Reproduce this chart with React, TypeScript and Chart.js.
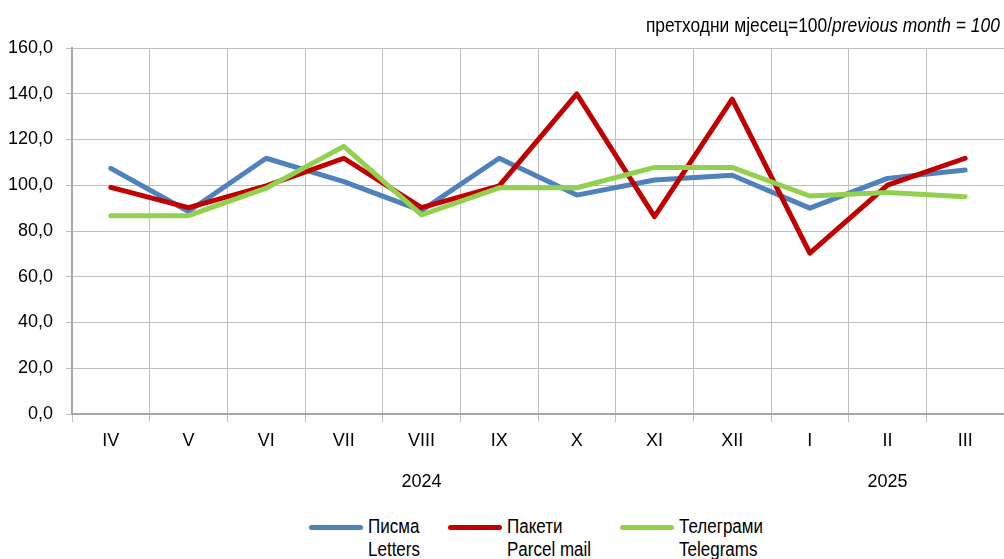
import React, { useEffect, useRef } from 'react';
import { Chart, registerables } from 'chart.js';

Chart.register(...registerables);

const categories = ['IV', 'V', 'VI', 'VII', 'VIII', 'IX', 'X', 'XI', 'XII', 'I', 'II', 'III'];
const yearLabels = ['', '', '', '', '2024', '', '', '', '', '', '2025', ''];
const letters = [107.4, 88.5, 111.8, 101.6, 88.9, 111.8, 95.7, 102.3, 104.4, 90.0, 103.0, 106.7];
const parcel = [99.1, 90.2, 99.7, 111.8, 90.2, 99.7, 139.9, 86.3, 137.6, 70.3, 100.1, 111.8];
const telegrams = [86.7, 86.7, 98.7, 117.0, 87.0, 98.9, 98.9, 107.8, 107.8, 95.3, 96.8, 95.0];
const yTicks = [0, 20, 40, 60, 80, 100, 120, 140, 160];

const FONT = "'Liberation Sans', Arial, sans-serif";
const BLUE = '#4f81bd';
const RED = '#c00000';
const GREEN = '#92d050';
const GRID = '#bfbfbf';
const AXIS = '#a6a6a6';

const legendItems = [
  { color: BLUE, l1: 'Писма', l2: 'Letters', x: 309 },
  { color: RED, l1: 'Пакети', l2: 'Parcel mail', x: 448 },
  { color: GREEN, l1: 'Телеграми', l2: 'Telegrams', x: 620 },
];

export default function App() {
  const ref = useRef<HTMLCanvasElement>(null);
  useEffect(() => {
    if (!ref.current) return;
    const font = { family: FONT, size: 18 };
    const chart = new Chart(ref.current, {
      type: 'line',
      data: {
        labels: categories,
        datasets: [
          { label: 'Писма', data: letters, borderColor: BLUE, backgroundColor: BLUE, borderWidth: 5, pointRadius: 0, tension: 0, borderCapStyle: 'round', borderJoinStyle: 'round', order: 3 },
          { label: 'Пакети', data: parcel, borderColor: RED, backgroundColor: RED, borderWidth: 5, pointRadius: 0, tension: 0, borderCapStyle: 'round', borderJoinStyle: 'round', order: 2 },
          { label: 'Телеграми', data: telegrams, borderColor: GREEN, backgroundColor: GREEN, borderWidth: 5, pointRadius: 0, tension: 0, borderCapStyle: 'round', borderJoinStyle: 'round', order: 1 },
        ],
      },
      options: {
        responsive: false,
        maintainAspectRatio: false,
        animation: false,
        layout: { padding: { top: 48, left: 0, right: 0, bottom: 0 } },
        plugins: { legend: { display: false }, tooltip: { enabled: false } },
        scales: {
          x: {
            type: 'category',
            offset: true,
            grid: { offset: true, color: GRID, lineWidth: 1, tickLength: 8 },
            border: { color: AXIS, width: 2 },
            ticks: { color: '#000', font, padding: 8, autoSkip: false, maxRotation: 0 },
            afterFit: (s: any) => { s.height = 40; },
          },
          x2: {
            type: 'category',
            labels: yearLabels,
            position: 'bottom',
            offset: true,
            grid: { display: false },
            border: { display: false },
            ticks: { color: '#000', font, padding: 9, autoSkip: false, maxRotation: 0 },
            afterFit: (s: any) => { s.height = 46; },
          },
          y: {
            min: 0,
            max: 160,
            afterBuildTicks: (s: any) => { s.ticks = yTicks.map((v) => ({ value: v })); },
            ticks: {
              color: '#000',
              font,
              padding: 13,
              callback: (v: any) => Number(v).toFixed(1).replace('.', ','),
            },
            grid: { color: GRID, lineWidth: 1, tickLength: 6 },
            border: { color: AXIS, width: 2 },
            afterFit: (s: any) => { s.width = 72; },
          },
        },
      },
    } as any);
    return () => chart.destroy();
  }, []);

  return (
    <div style={{ position: 'absolute', left: 0, top: 0, width: 1004, height: 559, background: '#fff', overflow: 'hidden', fontFamily: FONT, color: '#000' }}>
      <canvas ref={ref} width={1004} height={500} style={{ position: 'absolute', left: 0, top: 0, width: 1004, height: 500 }} />
      <div style={{ position: 'absolute', right: 4, top: 15, fontSize: 20, lineHeight: '20px', whiteSpace: 'nowrap', transform: 'scaleX(0.87)', transformOrigin: 'right center' }}>
        претходни мјесец=100/<i>previous month = 100</i>
      </div>
      {legendItems.map((it) => (
        <div key={it.l1} style={{ position: 'absolute', left: it.x, top: 515, height: 50 }}>
          <div style={{ position: 'absolute', left: 0, top: 10, width: 54, height: 5, borderRadius: 3, background: it.color }} />
          <div style={{ position: 'absolute', left: 59, top: 0, fontSize: 20, lineHeight: '23px', whiteSpace: 'nowrap', transform: 'scaleX(0.85)', transformOrigin: 'left center' }}>
            <div>{it.l1}</div>
            <div>{it.l2}</div>
          </div>
        </div>
      ))}
    </div>
  );
}
